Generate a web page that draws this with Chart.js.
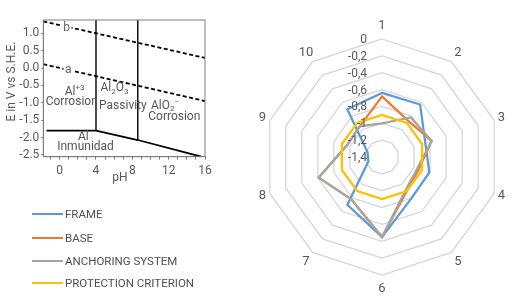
<!DOCTYPE html>
<html><head><meta charset="utf-8">
<script src="https://cdn.jsdelivr.net/npm/chart.js@4.4.1/dist/chart.umd.min.js"></script>
<style>
html,body{margin:0;padding:0;background:#fff;width:513px;height:298px;overflow:hidden;font-family:Roboto,sans-serif;}
canvas{position:absolute;left:0;top:0;}
.leg{position:absolute;left:0;height:14px;font:11.5px Roboto,sans-serif;color:#505050;white-space:nowrap;}
.leg span.sw{position:absolute;left:32px;top:6px;width:31px;height:2.2px;}
.leg span.tx{position:absolute;left:65px;top:0;line-height:14px;}
</style></head><body>
<canvas id="radar" width="513" height="298"></canvas>
<canvas id="pourbaix" width="230" height="190"></canvas>
<div id="legend"></div>
<script>
// ---------- Radar data ----------
const radarCategories = ['1','2','3','4','5','6','7','8','9','10'];
const radarTicks = [0, -0.2, -0.4, -0.6, -0.8, -1, -1.2, -1.4];
const seriesNames = ['FRAME', 'BASE', 'ANCHORING SYSTEM', 'PROTECTION CRITERION'];
const frameValues      = [-0.64, -0.63, -0.86, -0.81, -0.80, -0.45, -0.70, -1.23, -1.22, -0.70];
const baseValues       = [-0.68, -0.87, -0.78, -0.94, -0.90, -0.45, -0.78, -0.61, -0.96, -0.95];
const anchoringValues  = [-1.00, -0.82, -0.78, -0.96, -0.92, -0.45, -0.78, -0.61, -0.96, -0.95];
const protectionValues = [-0.90, -0.90, -0.90, -0.90, -0.90, -0.90, -0.90, -0.90, -0.90, -0.90];

// ---------- Pourbaix data ----------
const pourbaixXTicks = [0, 4, 8, 12, 16];
const pourbaixXMinorTicks = [-1, 0, 1, 2, 3, 4, 5, 6, 7, 8, 9, 10, 11, 12, 13, 14, 15, 16];
const pourbaixYTicks = [-2.5, -2.0, -1.5, -1.0, -0.5, 0.0, 0.5, 1.0];
const lineB_pH = [-1.8, 16];      const lineB_E = [1.34, 0.29];
const lineA_pH = [-1.8, 16];      const lineA_E = [0.11, -0.95];
const bound1_pH = [4, 4];         const bound1_E = [1.38, -1.8];
const bound2_pH = [8.6, 8.6];     const bound2_E = [1.38, -2.07];
const boundLow_pH = [-1.45, 4];   const boundLow_E = [-1.8, -1.8];
const boundSlope_pH = [4, 8.6, 15.6]; const boundSlope_E = [-1.8, -2.07, -2.55];

const COLORS = ['#5b9bd5', '#ed7d31', '#a5a5a5', '#ffc000'];
const TXT = '#595959';
const FONT = 'Roboto, sans-serif';

// ---------- Legend ----------
const legendTops = [207, 230.5, 253.5, 276];
const legend = document.getElementById('legend');
seriesNames.forEach((n, i) => {
  const d = document.createElement('div');
  d.className = 'leg';
  d.style.top = legendTops[i] + 'px';
  d.innerHTML = '<span class="sw" style="background:' + COLORS[i] + '"></span><span class="tx">' + n + '</span>';
  legend.appendChild(d);
});

// ---------- Radar ----------
const radarLabelPlugin = {
  id: 'radarLabels',
  afterDraw(chart) {
    const s = chart.scales.r, ctx = chart.ctx;
    ctx.save();
    ctx.fillStyle = TXT;
    ctx.textBaseline = 'middle';
    ctx.font = '13px ' + FONT;
    ctx.textAlign = 'center';
    radarCategories.forEach((lab, i) => {
      const a = i * 2 * Math.PI / radarCategories.length;
      const c = Math.cos(a);
      const p = s.getPointPosition(i, s.drawingArea + 7 + 6.5 * c * c);
      ctx.fillText(lab, p.x, p.y);
    });
    ctx.font = '12px ' + FONT;
    ctx.textAlign = 'right';
    radarTicks.forEach(v => {
      const d = s.getDistanceFromCenterForValue(v);
      const t = String(Math.round(v * 10) / 10).replace('.', ',');
      ctx.fillText(t, s.xCenter - 15, s.yCenter - d + 1);
    });
    ctx.restore();
  }
};

const radarSeries = [frameValues, baseValues, anchoringValues, protectionValues];
new Chart(document.getElementById('radar'), {
  type: 'radar',
  data: {
    labels: radarCategories,
    datasets: radarSeries.map((vals, i) => ({
      label: seriesNames[i],
      data: vals,
      borderColor: COLORS[i],
      backgroundColor: 'transparent',
      borderWidth: 2.25,
      pointRadius: 0,
      fill: false,
      order: radarSeries.length - 1 - i
    }))
  },
  options: {
    responsive: false, animation: false, devicePixelRatio: 1,
    layout: { padding: { left: 264, right: 13, top: 39, bottom: 23 } },
    plugins: { legend: { display: false }, tooltip: { enabled: false } },
    elements: { line: { tension: 0 } },
    scales: {
      r: {
        min: -1.4, max: 0,
        ticks: { display: false, stepSize: 0.2 },
        pointLabels: { display: false },
        angleLines: { display: false },
        grid: { color: '#d6d6d6', lineWidth: 1.3 }
      }
    }
  },
  plugins: [radarLabelPlugin]
});

// ---------- Pourbaix ----------
function pts(xs, ys) { return xs.map((x, i) => ({ x: x, y: ys[i] })); }
function seg(xs, ys, extra) {
  return Object.assign({ data: pts(xs, ys), showLine: true, borderColor: '#000', borderWidth: 1.4,
    pointRadius: 0, fill: false, tension: 0 }, extra || {});
}

const pourbaixNotes = [
  { parts: [['Al', ''], ['+3', 'sup']], x: 1.64, y: -0.68 },
  { parts: [['Corrosion', '']], x: 1.33, y: -0.985 },
  { parts: [['Al', ''], ['2', 'sub'], ['O', ''], ['3', 'sub']], x: 6.04, y: -0.58 },
  { parts: [['Passivity', '']], x: 6.96, y: -1.08 },
  { parts: [['AlO', ''], ['2', 'sub'], ['\u2212', 'sup']], x: 11.6, y: -1.09 },
  { parts: [['Corrosion', '']], x: 12.62, y: -1.40 },
  { parts: [['Al', '']], x: 2.6, y: -1.97 },
  { parts: [['Inmunidad', '']], x: 2.85, y: -2.26 }
];
const lineTags = [ { t: 'b', x: 0.78, y: 1.16 }, { t: 'a', x: 0.95, y: -0.055 } ];

const pourbaixPlugin = {
  id: 'pourbaixDecor',
  afterDatasetsDraw(chart) {
    const ctx = chart.ctx, a = chart.chartArea, sx = chart.scales.x, sy = chart.scales.y;
    ctx.save();
    ctx.strokeStyle = '#7f7f7f'; ctx.lineWidth = 1;
    ctx.strokeRect(a.left, a.top, a.right - a.left, a.bottom - a.top);
    ctx.font = '12px ' + FONT; ctx.textBaseline = 'middle'; ctx.textAlign = 'center';
    lineTags.forEach(t => {
      const px = sx.getPixelForValue(t.x), py = sy.getPixelForValue(t.y);
      const w = ctx.measureText(t.t).width;
      ctx.fillStyle = '#fff'; ctx.fillRect(px - w / 2 - 1.5, py - 5, w + 3, 10);
      ctx.fillStyle = '#666'; ctx.fillText(t.t, px, py);
    });
    ctx.textAlign = 'left';
    pourbaixNotes.forEach(n => {
      const fonts = n.parts.map(p => (p[1] ? '8px ' : '12px ') + FONT);
      let total = 0;
      const widths = n.parts.map((p, i) => { ctx.font = fonts[i]; const w = ctx.measureText(p[0]).width; total += w; return w; });
      let px = sx.getPixelForValue(n.x) - total / 2;
      const py = sy.getPixelForValue(n.y);
      ctx.fillStyle = '#555';
      n.parts.forEach((p, i) => {
        ctx.font = fonts[i];
        const dy = p[1] === 'sup' ? -4 : (p[1] === 'sub' ? 3.5 : 0);
        ctx.fillText(p[0], px, py + dy);
        px += widths[i];
      });
    });
    ctx.fillStyle = TXT; ctx.font = '12px ' + FONT; ctx.textAlign = 'center';
    ctx.fillText('pH', 120, 178);
    ctx.translate(11.5, 81.5); ctx.rotate(-Math.PI / 2);
    ctx.fillText('E in V vs S.H.E.', 0, 0);
    ctx.restore();
  }
};

new Chart(document.getElementById('pourbaix'), {
  type: 'scatter',
  data: {
    datasets: [
      seg(lineB_pH, lineB_E, { borderDash: [4, 2.5], borderWidth: 1.8 }),
      seg(lineA_pH, lineA_E, { borderDash: [4, 2.5], borderWidth: 1.8 }),
      seg(bound1_pH, bound1_E),
      seg(bound2_pH, bound2_E),
      seg(boundLow_pH, boundLow_E, { borderWidth: 1.6 }),
      seg(boundSlope_pH, boundSlope_E, { borderWidth: 1.8 })
    ]
  },
  options: {
    responsive: false, animation: false, devicePixelRatio: 1,
    layout: { padding: { left: 0, top: 20, right: 25, bottom: 0 } },
    plugins: { legend: { display: false }, tooltip: { enabled: false } },
    scales: {
      x: {
        type: 'linear', min: -1.8, max: 16,
        afterBuildTicks: s => { s.ticks = pourbaixXMinorTicks.map(v => ({ value: v })); },
        afterFit: s => { s.height = 33.3; },
        ticks: { autoSkip: false, maxRotation: 0, color: TXT, font: { size: 12, family: FONT }, padding: 4,
                 callback: v => pourbaixXTicks.includes(v) ? String(v) : '' },
        grid: { drawOnChartArea: false, tickLength: 3, color: '#7f7f7f' },
        border: { color: '#7f7f7f' }
      },
      y: {
        type: 'linear', min: -2.55, max: 1.38,
        afterBuildTicks: s => { s.ticks = pourbaixYTicks.map(v => ({ value: v })); },
        afterFit: s => { s.width = 43.3; },
        ticks: { color: TXT, font: { size: 12, family: FONT }, padding: 2, callback: v => v.toFixed(1) },
        grid: { drawOnChartArea: false, tickLength: 2, color: '#7f7f7f' },
        border: { color: '#7f7f7f' }
      }
    }
  },
  plugins: [pourbaixPlugin]
});
</script>
</body></html>
